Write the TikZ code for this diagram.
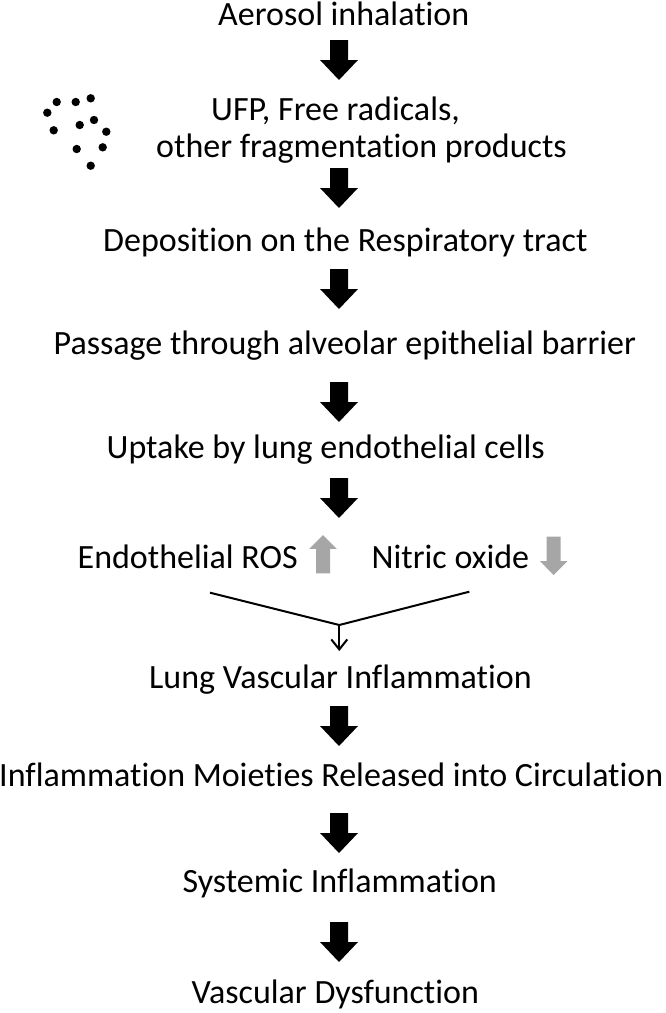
\documentclass[tikz,border=0pt]{standalone}
\usepackage{fontspec}
\setmainfont{Carlito}[Ligatures={NoCommon,NoRequired,NoContextual}]
\usetikzlibrary{arrows.meta}
\definecolor{greyarrow}{HTML}{A6A6A6}
\begin{document}
\begin{tikzpicture}[x=1pt,y=-1pt,
  lbl/.style={anchor=base west,inner sep=0pt,font=\fontsize{34}{41}\selectfont},
  thinline/.style={line width=2pt,black},
  blkarrow/.pic={\fill[black] (-9,0) -- (9,0) -- (9,20) -- (19,20) -- (0,40) -- (-19,20) -- (-9,20) -- cycle;},
  greyup/.pic={\fill[greyarrow] (-7,0) -- (7,0) -- (7,-24.5) -- (13.7,-24.5) -- (0,-38.3) -- (-13.7,-24.5) -- (-7,-24.5) -- cycle;},
  greydown/.pic={\fill[greyarrow] (-7,0) -- (7,0) -- (7,24.5) -- (13.7,24.5) -- (0,38.3) -- (-13.7,24.5) -- (-7,24.5) -- cycle;},
  particle/.style={fill=black}
]
\useasboundingbox (0,0) rectangle (666,1013);

% texts
\node[lbl] (aer)  at (218,25)    {Aerosol inhalation};
\node[lbl] (ufp1) at (211,120)   {UFP, Free radicals,};
\node[lbl] (ufp2) at (156,157)   {other fragmentation products};
\node[lbl] (dep)  at (103,251)   {Deposition on the Respiratory tract};
\node[lbl] (pas)  at (53.5,354)  {Passage through alveolar epithelial barrier};
\node[lbl] (upt)  at (106.5,458) {Uptake by lung endothelial cells};
\node[lbl] (ros)  at (77.5,568)  {Endothelial ROS};
\node[lbl] (nox)  at (371.5,568) {Nitric oxide};
\node[lbl] (lung) at (149,688)   {Lung Vascular Inflammation};
\node[lbl] (moi)  at (-1,786)    {Inflammation Moieties Released into Circulation};
\node[lbl] (sys)  at (182.5,892) {Systemic Inflammation};
\node[lbl] (vas)  at (191.5,1003) {Vascular Dysfunction};

% particles
\foreach \px/\py in {56.7/102,75.7/102,90.7/98.3,47.3/112.7,79.7/125,94/120,53.7/130.3,106.3/131.7,76.7/149,102.7/147.3,90.7/165.7}
  \fill[particle] (\px,\py) circle[radius=4.2pt];

% block arrows
\pic at (339,40)  {blkarrow};
\pic at (339,168) {blkarrow};
\pic at (339,269) {blkarrow};
\pic at (339,382) {blkarrow};
\pic at (339,478) {blkarrow};
\pic at (339,706) {blkarrow};
\pic at (339,813) {blkarrow};
\pic at (339,922) {blkarrow};

% grey up/down arrows
\pic at (323,573.3) {greyup};
\pic at (553.7,536.7) {greydown};

% converging connector
\coordinate (yl) at (210,592.7);
\coordinate (yr) at (469.3,591.7);
\coordinate (yj) at (339.3,625);
\coordinate (yt) at (339.3,651);
\draw[thinline] (yl) -- (yj) -- (yr);
\draw[thinline,-{Straight Barb[length=10pt,width=16pt]}] (yj) -- (yt);
\end{tikzpicture}
\end{document}
